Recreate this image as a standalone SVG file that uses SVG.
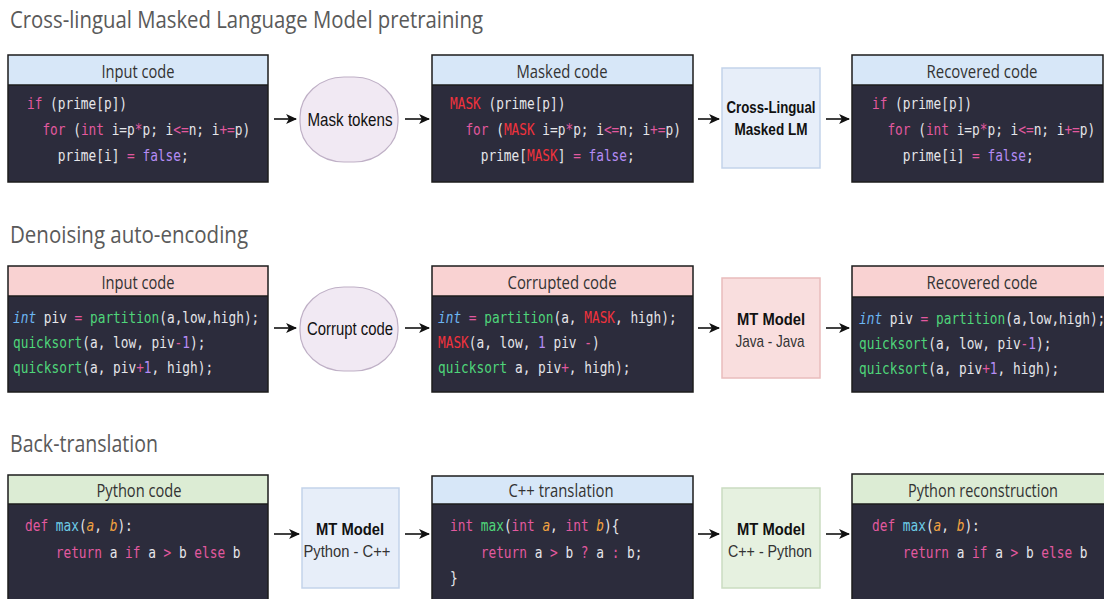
<svg xmlns="http://www.w3.org/2000/svg" width="1104" height="599" viewBox="0 0 1104 599">
<defs>
<marker id="ah" viewBox="0 0 10 10" refX="9" refY="5" markerWidth="11" markerHeight="11" markerUnits="userSpaceOnUse" orient="auto">
<path d="M0,0.5 L10,5 L0,9.5 L2.5,5 Z" fill="#111"/>
</marker>
<style>
.title{font-family:"Open Sans","Liberation Sans",sans-serif;font-size:24px;fill:#5a5a5a}
.hdr{font-family:"Open Sans","Liberation Sans",sans-serif;font-size:18px;fill:#333;text-anchor:middle}
.body{fill:#2c2c3c}
.frame{fill:none;stroke:#1c1c1c;stroke-width:1.5}
.sep{stroke:#1c1c1c;stroke-width:1.5}
.hb{fill:#d7e7f8}
.hp{fill:#f9d2d2}
.hg{fill:#dcecd4}
.code{font-family:"DejaVu Sans Mono",monospace;font-size:16px;fill:#e6e6ea}
.k{fill:#e2599f}
.f{fill:#b58cf5}
.m{fill:#f0323c}
.t{fill:#6cb6f2;font-style:italic}
.g{fill:#4fd67a}
.c{fill:#6ccbe6}
.o{fill:#f4a340;font-style:italic}
.oval{fill:#f1e9f3;stroke:#bfb0c6;stroke-width:1.2}
.lbl{font-family:"Liberation Sans",Arial,sans-serif;font-size:19px;fill:#111;text-anchor:middle}
.mb{fill:#e7eef9;stroke:#c3d3ea;stroke-width:1.5}
.mp{fill:#f9dede;stroke:#e9bcbc;stroke-width:1.5}
.mg{fill:#e6f1e0;stroke:#cadcc1;stroke-width:1.5}
.bold{font-family:"Liberation Sans",Arial,sans-serif;font-size:17px;font-weight:bold;fill:#111;text-anchor:middle}
.sub{font-family:"Liberation Sans",Arial,sans-serif;font-size:17px;fill:#333;text-anchor:middle}
.arr{stroke:#111;stroke-width:1.6;fill:none;marker-end:url(#ah)}
</style>
</defs>
<rect width="1104" height="599" fill="#ffffff"/>

<text class="title" x="10" y="28" textLength="473" lengthAdjust="spacingAndGlyphs">Cross-lingual Masked Language Model pretraining</text>
<text class="title" x="10" y="243" textLength="238" lengthAdjust="spacingAndGlyphs">Denoising auto-encoding</text>
<text class="title" x="10" y="452" textLength="148" lengthAdjust="spacingAndGlyphs">Back-translation</text>

<!-- Row 1 -->
<g id="r1-input">
<rect class="hb" x="8" y="55" width="260" height="30"/>
<rect class="body" x="8" y="85" width="260" height="97"/>
<line class="sep" x1="8" y1="85" x2="268" y2="85"/>
<rect class="frame" x="8" y="55" width="260" height="127"/>
<text class="hdr" x="138" y="78" textLength="73" lengthAdjust="spacingAndGlyphs">Input code</text>
<g transform="translate(27,109) scale(0.8,1)">
<text class="code" xml:space="preserve" x="0" y="0"><tspan class="k">if</tspan> (prime[p])</text>
<text class="code" xml:space="preserve" x="0" y="26">  <tspan class="k">for</tspan> (<tspan class="k">int</tspan> i=p<tspan class="k">*</tspan>p; i<tspan class="k">&lt;=</tspan>n; i<tspan class="k">+=</tspan>p)</text>
<text class="code" xml:space="preserve" x="0" y="52">    prime[i] <tspan class="k">=</tspan> <tspan class="f">false</tspan>;</text>
</g>
</g>

<g id="r1-mask">
<rect class="oval" x="300" y="77" width="98" height="85" rx="44" ry="40"/>
<text class="lbl" x="350" y="126" textLength="85" lengthAdjust="spacingAndGlyphs">Mask tokens</text>
</g>

<g id="r1-masked">
<rect class="hb" x="432" y="55" width="261" height="30"/>
<rect class="body" x="432" y="85" width="261" height="97"/>
<line class="sep" x1="432" y1="85" x2="693" y2="85"/>
<rect class="frame" x="432" y="55" width="261" height="127"/>
<text class="hdr" x="562" y="78" textLength="91" lengthAdjust="spacingAndGlyphs">Masked code</text>
<g transform="translate(450,109) scale(0.8,1)">
<text class="code" xml:space="preserve" x="0" y="0"><tspan class="m">MASK</tspan> (prime[p])</text>
<text class="code" xml:space="preserve" x="0" y="26">  <tspan class="k">for</tspan> (<tspan class="m">MASK</tspan> i=p<tspan class="k">*</tspan>p; i<tspan class="k">&lt;=</tspan>n; i<tspan class="k">+=</tspan>p)</text>
<text class="code" xml:space="preserve" x="0" y="52">    prime[<tspan class="m">MASK</tspan>] <tspan class="k">=</tspan> <tspan class="f">false</tspan>;</text>
</g>
</g>

<g id="r1-model">
<rect class="mb" x="722" y="68" width="98" height="100"/>
<text class="bold" x="771" y="113" textLength="89" lengthAdjust="spacingAndGlyphs">Cross-Lingual</text>
<text class="bold" x="771" y="135" textLength="73" lengthAdjust="spacingAndGlyphs">Masked LM</text>
</g>

<g id="r1-recovered">
<rect class="hb" x="852" y="55" width="251" height="30"/>
<rect class="body" x="852" y="85" width="251" height="97"/>
<line class="sep" x1="852" y1="85" x2="1103" y2="85"/>
<rect class="frame" x="852" y="55" width="251" height="127"/>
<text class="hdr" x="982" y="78" textLength="111" lengthAdjust="spacingAndGlyphs">Recovered code</text>
<g transform="translate(872,109) scale(0.8,1)">
<text class="code" xml:space="preserve" x="0" y="0"><tspan class="k">if</tspan> (prime[p])</text>
<text class="code" xml:space="preserve" x="0" y="26">  <tspan class="k">for</tspan> (<tspan class="k">int</tspan> i=p<tspan class="k">*</tspan>p; i<tspan class="k">&lt;=</tspan>n; i<tspan class="k">+=</tspan>p)</text>
<text class="code" xml:space="preserve" x="0" y="52">    prime[i] <tspan class="k">=</tspan> <tspan class="f">false</tspan>;</text>
</g>
</g>

<!-- Row 2 -->
<g id="r2-input">
<rect class="hp" x="8" y="266" width="260" height="30"/>
<rect class="body" x="8" y="296" width="260" height="96"/>
<line class="sep" x1="8" y1="296" x2="268" y2="296"/>
<rect class="frame" x="8" y="266" width="260" height="126"/>
<text class="hdr" x="138" y="289" textLength="73" lengthAdjust="spacingAndGlyphs">Input code</text>
<g transform="translate(13,323) scale(0.8,1)">
<text class="code" xml:space="preserve" x="0" y="0"><tspan class="t">int</tspan> piv <tspan class="k">=</tspan> <tspan class="g">partition</tspan>(a,low,high);</text>
<text class="code" xml:space="preserve" x="0" y="25"><tspan class="g">quicksort</tspan>(a, low, piv<tspan class="k">-</tspan><tspan class="f">1</tspan>);</text>
<text class="code" xml:space="preserve" x="0" y="50"><tspan class="g">quicksort</tspan>(a, piv<tspan class="k">+</tspan><tspan class="f">1</tspan>, high);</text>
</g>
</g>

<g id="r2-corrupt">
<rect class="oval" x="300" y="287" width="98" height="84" rx="44" ry="40"/>
<text class="lbl" x="350" y="335" textLength="86" lengthAdjust="spacingAndGlyphs">Corrupt code</text>
</g>

<g id="r2-corrupted">
<rect class="hp" x="432" y="266" width="261" height="30"/>
<rect class="body" x="432" y="296" width="261" height="96"/>
<line class="sep" x1="432" y1="296" x2="693" y2="296"/>
<rect class="frame" x="432" y="266" width="261" height="126"/>
<text class="hdr" x="562" y="289" textLength="109" lengthAdjust="spacingAndGlyphs">Corrupted code</text>
<g transform="translate(438,323) scale(0.8,1)">
<text class="code" xml:space="preserve" x="0" y="0"><tspan class="t">int</tspan> <tspan class="k">=</tspan> <tspan class="g">partition</tspan>(a, <tspan class="m">MASK</tspan>, high);</text>
<text class="code" xml:space="preserve" x="0" y="25"><tspan class="m">MASK</tspan>(a, low, <tspan class="f">1</tspan> piv <tspan class="k">-</tspan>)</text>
<text class="code" xml:space="preserve" x="0" y="50"><tspan class="g">quicksort</tspan> a, piv<tspan class="k">+</tspan>, high);</text>
</g>
</g>

<g id="r2-model">
<rect class="mp" x="722" y="278" width="98" height="100"/>
<text class="bold" x="771" y="325" textLength="68" lengthAdjust="spacingAndGlyphs">MT Model</text>
<text class="sub" x="770" y="347" textLength="69" lengthAdjust="spacingAndGlyphs">Java - Java</text>
</g>

<g id="r2-recovered">
<rect class="hp" x="852" y="266" width="260" height="31"/>
<rect class="body" x="852" y="297" width="260" height="95"/>
<line class="sep" x1="852" y1="297" x2="1112" y2="297"/>
<rect class="frame" x="852" y="266" width="260" height="126"/>
<text class="hdr" x="982" y="289" textLength="111" lengthAdjust="spacingAndGlyphs">Recovered code</text>
<g transform="translate(859,324) scale(0.8,1)">
<text class="code" xml:space="preserve" x="0" y="0"><tspan class="t">int</tspan> piv <tspan class="k">=</tspan> <tspan class="g">partition</tspan>(a,low,high);</text>
<text class="code" xml:space="preserve" x="0" y="25"><tspan class="g">quicksort</tspan>(a, low, piv<tspan class="k">-</tspan><tspan class="f">1</tspan>);</text>
<text class="code" xml:space="preserve" x="0" y="50"><tspan class="g">quicksort</tspan>(a, piv<tspan class="k">+</tspan><tspan class="f">1</tspan>, high);</text>
</g>
</g>

<!-- Row 3 -->
<g id="r3-python">
<rect class="hg" x="8" y="475" width="260" height="29"/>
<rect class="body" x="8" y="504" width="260" height="110"/>
<line class="sep" x1="8" y1="504" x2="268" y2="504"/>
<rect class="frame" x="8" y="475" width="260" height="139"/>
<text class="hdr" x="139" y="497" textLength="85" lengthAdjust="spacingAndGlyphs">Python code</text>
<g transform="translate(25,531) scale(0.8,1)">
<text class="code" xml:space="preserve" x="0" y="0"><tspan class="k">def</tspan> <tspan class="c">max</tspan>(<tspan class="o">a</tspan>, <tspan class="o">b</tspan>):</text>
<text class="code" xml:space="preserve" x="0" y="27">    <tspan class="k">return</tspan> a <tspan class="k">if</tspan> a <tspan class="k">&gt;</tspan> b <tspan class="k">else</tspan> b</text>
</g>
</g>

<g id="r3-model1">
<rect class="mb" x="302" y="488" width="97" height="100"/>
<text class="bold" x="350" y="535" textLength="68" lengthAdjust="spacingAndGlyphs">MT Model</text>
<text class="sub" x="347" y="557" textLength="87" lengthAdjust="spacingAndGlyphs">Python - C++</text>
</g>

<g id="r3-cpp">
<rect class="hb" x="432" y="476" width="261" height="28"/>
<rect class="body" x="432" y="504" width="261" height="110"/>
<line class="sep" x1="432" y1="504" x2="693" y2="504"/>
<rect class="frame" x="432" y="476" width="261" height="138"/>
<text class="hdr" x="561" y="497" textLength="105" lengthAdjust="spacingAndGlyphs">C++ translation</text>
<g transform="translate(450,531) scale(0.8,1)">
<text class="code" xml:space="preserve" x="0" y="0"><tspan class="k">int</tspan> <tspan class="g">max</tspan>(<tspan class="k">int</tspan> <tspan class="o">a</tspan>, <tspan class="k">int</tspan> <tspan class="o">b</tspan>){</text>
<text class="code" xml:space="preserve" x="0" y="27">    <tspan class="k">return</tspan> a <tspan class="k">&gt;</tspan> b <tspan class="k">?</tspan> a <tspan class="k">:</tspan> b;</text>
<text class="code" xml:space="preserve" x="0" y="52">}</text>
</g>
</g>

<g id="r3-model2">
<rect class="mg" x="722" y="488" width="98" height="100"/>
<text class="bold" x="771" y="535" textLength="68" lengthAdjust="spacingAndGlyphs">MT Model</text>
<text class="sub" x="770" y="557" textLength="84" lengthAdjust="spacingAndGlyphs">C++ - Python</text>
</g>

<g id="r3-recon">
<rect class="hg" x="852" y="474" width="260" height="30"/>
<rect class="body" x="852" y="504" width="260" height="110"/>
<line class="sep" x1="852" y1="504" x2="1112" y2="504"/>
<rect class="frame" x="852" y="474" width="260" height="140"/>
<text class="hdr" x="983" y="497" textLength="150" lengthAdjust="spacingAndGlyphs">Python reconstruction</text>
<g transform="translate(872,531) scale(0.8,1)">
<text class="code" xml:space="preserve" x="0" y="0"><tspan class="k">def</tspan> <tspan class="c">max</tspan>(<tspan class="o">a</tspan>, <tspan class="o">b</tspan>):</text>
<text class="code" xml:space="preserve" x="0" y="27">    <tspan class="k">return</tspan> a <tspan class="k">if</tspan> a <tspan class="k">&gt;</tspan> b <tspan class="k">else</tspan> b</text>
</g>
</g>

<g id="connectors">
<line class="arr" x1="274" y1="119" x2="296" y2="119"/>
<line class="arr" x1="405" y1="119" x2="429" y2="119"/>
<line class="arr" x1="698" y1="119" x2="719" y2="119"/>
<line class="arr" x1="826" y1="119" x2="849" y2="119"/>
<line class="arr" x1="274" y1="328" x2="296" y2="328"/>
<line class="arr" x1="405" y1="328" x2="429" y2="328"/>
<line class="arr" x1="698" y1="328" x2="719" y2="328"/>
<line class="arr" x1="826" y1="328" x2="849" y2="328"/>
<line class="arr" x1="274" y1="534" x2="299" y2="534"/>
<line class="arr" x1="405" y1="534" x2="429" y2="534"/>
<line class="arr" x1="698" y1="534" x2="719" y2="534"/>
<line class="arr" x1="826" y1="534" x2="849" y2="534"/>
</g>
</svg>
